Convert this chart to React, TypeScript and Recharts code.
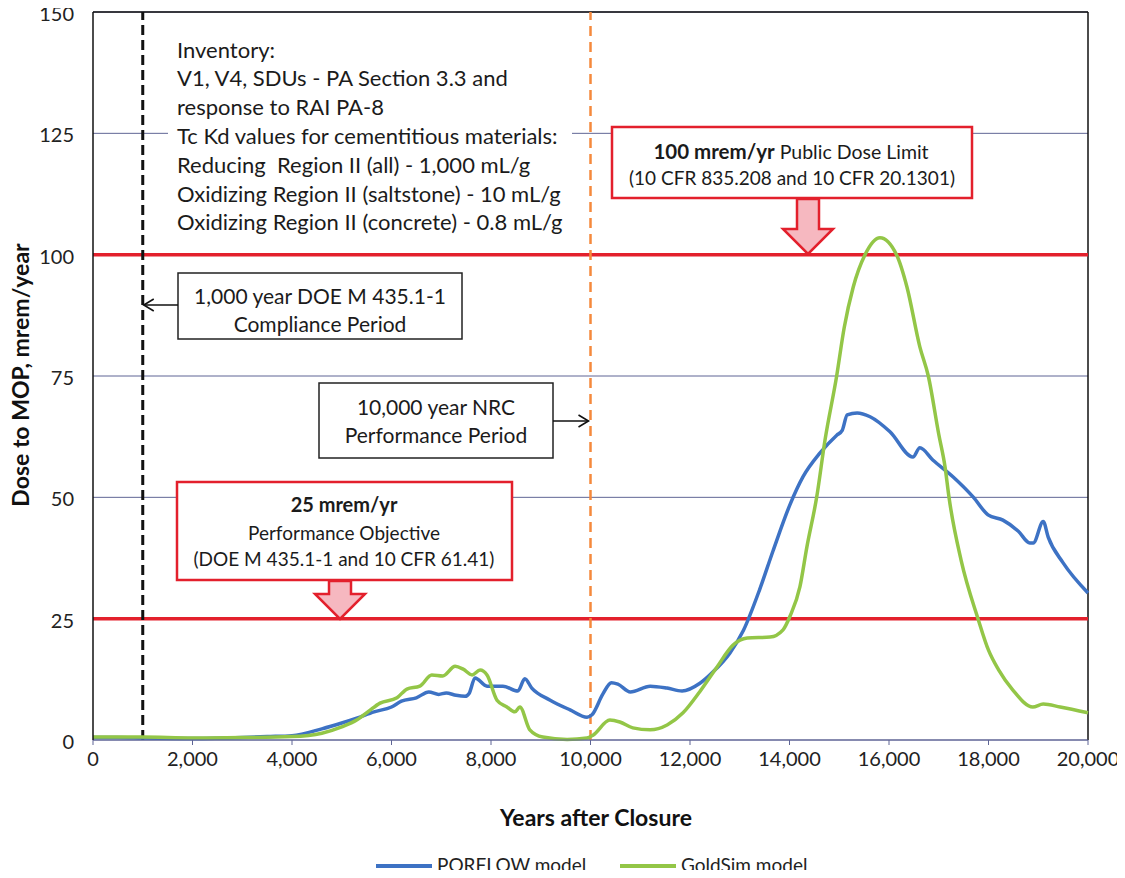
import React from 'react';
import { LineChart, Line, XAxis, YAxis, CartesianGrid, ReferenceLine } from 'recharts';

// PORFLOW model (blue)
const porflowYears = [
  0, 500, 1000, 2000, 3000, 3500, 4000, 4600, 5000, 5300, 5650, 6000, 6200, 6500, 6750, 6950,
  7100, 7300, 7480, 7560, 7680, 7920, 8240, 8540, 8680, 8820, 9190, 9590, 9930, 10030, 10250,
  10420, 10550, 10800, 11200, 11540, 11840, 12200, 12460, 12800, 13070, 13400, 13670, 14010,
  14270, 14610, 14950, 15060, 15160, 15360, 15620, 16020, 16480, 16620, 16880, 17290, 17690,
  17990, 18290, 18600, 18830, 18900, 19100, 19200, 19500, 20000,
];
const porflowDose = [
  0.5, 0.5, 0.4, 0.3, 0.5, 0.7, 0.9, 2.3, 3.5, 4.5, 5.8, 6.8, 8.0, 8.7, 9.9, 9.4,
  9.7, 9.2, 9.0, 9.6, 12.8, 11.1, 11.1, 10.1, 12.6, 10.7, 8.2, 6.2, 4.7, 5.2, 9.5,
  11.8, 11.5, 9.9, 11.1, 10.7, 10.1, 11.7, 14, 17.9, 22.5, 31, 39, 48.5,
  54.2, 59.1, 62.8, 63.8, 67, 67.4, 66.6, 63.5, 58.3, 60.2, 57.7, 54.2, 50.1,
  46.4, 45.3, 43, 40.6, 40.6, 45, 41.8, 36.5, 30.3,
];

// GoldSim model (green)
const goldsimYears = [
  0, 1000, 2000, 3000, 4000, 4600, 5000, 5300, 5550, 5770, 6110, 6310, 6570, 6810, 7030, 7280,
  7440, 7620, 7780, 7920, 8120, 8320, 8480, 8580, 8780, 9040, 9530, 9930, 10050, 10390, 10590,
  10850, 11200, 11540, 11860, 12200, 12540, 12860, 13150, 13610, 13870, 14010, 14210, 14350,
  14546, 14714, 14948, 15100, 15280, 15518, 15819, 16151, 16362, 16620, 16790, 17000, 17126,
  17206, 17450, 17789, 18000, 18200, 18490, 18890, 19100, 19440, 20000,
];
const goldsimDose = [
  0.6, 0.6, 0.4, 0.5, 0.7, 1.4, 2.7, 4.1, 6.0, 7.6, 8.7, 10.5, 11.1, 13.4, 13.2, 15.2,
  14.6, 13.4, 14.4, 13.4, 8.2, 6.8, 5.8, 6.8, 2.1, 0.6, 0.1, 0.4, 1.0, 4.1, 3.7,
  2.5, 2.1, 3.1, 5.6, 10, 15, 19.5, 21, 21.2, 22.7, 25.5, 31.6, 39.8,
  50, 61.8, 75, 85, 93.3, 100, 103.5, 100, 93.3, 81, 75, 63, 56.3,
  50, 37, 25, 18.5, 14.5, 10.3, 6.8, 7.4, 6.8, 5.6,
];

const xTicks = [0, 2000, 4000, 6000, 8000, 10000, 12000, 14000, 16000, 18000, 20000];
const yTicks = [0, 25, 50, 75, 100, 125, 150];

const performanceObjective = 25;
const publicDoseLimit = 100;
const doeCompliancePeriod = 1000;
const nrcPerformancePeriod = 10000;

const inventoryLines = [
  'Inventory:',
  'V1, V4, SDUs - PA Section 3.3 and',
  'response to RAI PA-8',
  'Tc Kd values for cementitious materials:',
  'Reducing  Region II (all) - 1,000 mL/g',
  'Oxidizing Region II (saltstone) - 10 mL/g',
  'Oxidizing Region II (concrete) - 0.8 mL/g',
];

const porflowData = porflowYears.map((year, i) => ({ year, dose: porflowDose[i] }));
const goldsimData = goldsimYears.map((year, i) => ({ year, dose: goldsimDose[i] }));

const W = 1125;
const H = 878;
const margin = { top: 12, right: 37, bottom: 108, left: 33 };
const FONT = 'Lato, "Open Sans", sans-serif';
const RED = '#e3202c';
const BLUE = '#3d72c4';
const GREEN = '#93c647';
const GRID = '#5f6595';

// plot area, used only to place the annotation boxes
const plotLeft = 93;
const plotRight = W - margin.right;
const X = (year: number) => plotLeft + (year / 20000) * (plotRight - plotLeft);

function DownArrow({ cx, top, bottom }: { cx: number; top: number; bottom: number }) {
  const headTop = bottom - 25;
  const pts = [
    [cx - 11, top], [cx + 11, top], [cx + 11, headTop], [cx + 25, headTop],
    [cx, bottom], [cx - 25, headTop], [cx - 11, headTop],
  ].map((p) => p.join(',')).join(' ');
  return <polygon points={pts} fill="#f6b8c0" stroke={RED} strokeWidth={2.5} strokeLinejoin="miter" />;
}

function OpenArrow({ x1, x2, y }: { x1: number; x2: number; y: number }) {
  const dir = x2 > x1 ? -1 : 1;
  return (
    <g stroke="#111" strokeWidth={1.6} fill="none">
      <line x1={x1} y1={y} x2={x2} y2={y} />
      <polyline points={`${x2 + dir * 10},${y - 6} ${x2},${y} ${x2 + dir * 10},${y + 6}`} />
    </g>
  );
}

function Annotations() {
  const inv = { fontFamily: FONT, fontSize: 22, fill: '#1b1b1b' };
  const box = { fontFamily: FONT, fontSize: 21, fill: '#1b1b1b' };
  const red = { fontFamily: FONT, fontSize: 19, fill: '#1b1b1b' };
  return (
    <svg width={W} height={H} style={{ position: 'absolute', left: 0, top: 0, pointerEvents: 'none' }}>
      {/* inventory notes */}
      <rect x={168} y={26} width={404} height={214} fill="#fff" />
      {inventoryLines.map((t, i) => (
        <text key={i} x={177} y={57.5 + i * 28.8} style={{ ...inv, whiteSpace: 'pre' }}>
          {t}
        </text>
      ))}

      {/* 1,000 year box */}
      <rect x={178} y={273} width={284} height={66} fill="#fff" stroke="#222" strokeWidth={1.5} />
      <text x={320} y={303.5} textAnchor="middle" style={box}>1,000 year DOE M 435.1-1</text>
      <text x={320} y={331.5} textAnchor="middle" style={box}>Compliance Period</text>
      <OpenArrow x1={178} x2={X(doeCompliancePeriod) + 1} y={305} />

      {/* 10,000 year box */}
      <rect x={319} y={383} width={234} height={75} fill="#fff" stroke="#222" strokeWidth={1.5} />
      <text x={436} y={414.5} textAnchor="middle" style={box}>10,000 year NRC</text>
      <text x={436} y={442.5} textAnchor="middle" style={box}>Performance Period</text>
      <OpenArrow x1={553} x2={X(nrcPerformancePeriod) - 2} y={421} />

      {/* 25 mrem/yr box */}
      <rect x={177} y={482} width={335} height={98} fill="#fff" stroke={RED} strokeWidth={2.5} />
      <text x={344} y={512} textAnchor="middle" style={{ ...red, fontSize: 20, fontWeight: 700 }}>25 mrem/yr</text>
      <text x={344} y={540} textAnchor="middle" style={red}>Performance Objective</text>
      <text x={344} y={566} textAnchor="middle" style={red}>(DOE M 435.1-1 and 10 CFR 61.41)</text>
      <DownArrow cx={340} top={581} bottom={619} />

      {/* 100 mrem/yr box */}
      <rect x={612} y={127} width={360} height={71} fill="#fff" stroke={RED} strokeWidth={2.5} />
      <text x={791} y={159} textAnchor="middle" style={{ ...red, fontSize: 19.5 }}>
        <tspan fontWeight={700} fontSize={20.5}>100 mrem/yr</tspan> Public Dose Limit
      </text>
      <text x={792} y={185} textAnchor="middle" style={red}>(10 CFR 835.208 and 10 CFR 20.1301)</text>
      <DownArrow cx={808} top={199} bottom={254} />

      {/* axis titles */}
      <text x={596} y={826} textAnchor="middle" style={{ fontFamily: FONT, fontSize: 23, fontWeight: 700, fill: '#111' }}>
        Years after Closure
      </text>
      <text
        transform="translate(29,375) rotate(-90)"
        textAnchor="middle"
        style={{ fontFamily: FONT, fontSize: 23, fontWeight: 700, fill: '#111' }}
      >
        Dose to MOP, mrem/year
      </text>

      {/* legend */}
      <line x1={376} y1={866} x2={432} y2={866} stroke={BLUE} strokeWidth={4} />
      <text x={437} y={872} style={{ fontFamily: FONT, fontSize: 19, fill: '#222' }}>PORFLOW model</text>
      <line x1={620} y1={866} x2={676} y2={866} stroke={GREEN} strokeWidth={4} />
      <text x={681} y={872} style={{ fontFamily: FONT, fontSize: 19, fill: '#222' }}>GoldSim model</text>
    </svg>
  );
}

export default function App() {
  return (
    <div style={{ position: 'relative', width: W, height: H, margin: '-8px 0 -8px -8px', background: '#fff', overflow: 'hidden' }}>
      <LineChart width={W} height={H} margin={margin}>
        <CartesianGrid vertical={false} stroke={GRID} strokeWidth={1} />
        <XAxis
          dataKey="year"
          type="number"
          domain={[0, 20000]}
          ticks={xTicks}
          tickFormatter={(v: number) => v.toLocaleString('en-US')}
          height={30}
          axisLine={{ stroke: GRID }}
          tickLine={{ stroke: GRID }}
          tickSize={5}
          tick={{ fontFamily: FONT, fontSize: 20, fill: '#222', dy: 5 }}
          allowDuplicatedCategory={false}
        />
        <YAxis
          type="number"
          domain={[0, 150]}
          ticks={yTicks}
          width={60}
          axisLine={{ stroke: '#111', strokeWidth: 1.5 }}
          tickLine={false}
          tickMargin={13}
          tick={{ fontFamily: FONT, fontSize: 20, fill: '#222', dy: 2 }}
        />
        <ReferenceLine y={150} stroke="#111" strokeWidth={1.5} />
        <ReferenceLine x={20000} stroke="#111" strokeWidth={1.5} />
        <ReferenceLine y={performanceObjective} stroke={RED} strokeWidth={3.5} />
        <ReferenceLine y={publicDoseLimit} stroke={RED} strokeWidth={3.5} />
        <ReferenceLine x={doeCompliancePeriod} stroke="#111" strokeWidth={3} strokeDasharray="10 5" />
        <ReferenceLine x={nrcPerformancePeriod} stroke="#f5893c" strokeWidth={2.5} strokeDasharray="10 6" />
        <Line
          data={porflowData}
          dataKey="dose"
          name="PORFLOW model"
          type="monotone"
          stroke={BLUE}
          strokeWidth={3.5}
          dot={false}
          isAnimationActive={false}
        />
        <Line
          data={goldsimData}
          dataKey="dose"
          name="GoldSim model"
          type="monotone"
          stroke={GREEN}
          strokeWidth={3.5}
          dot={false}
          isAnimationActive={false}
        />
      </LineChart>
      <Annotations />
    </div>
  );
}
